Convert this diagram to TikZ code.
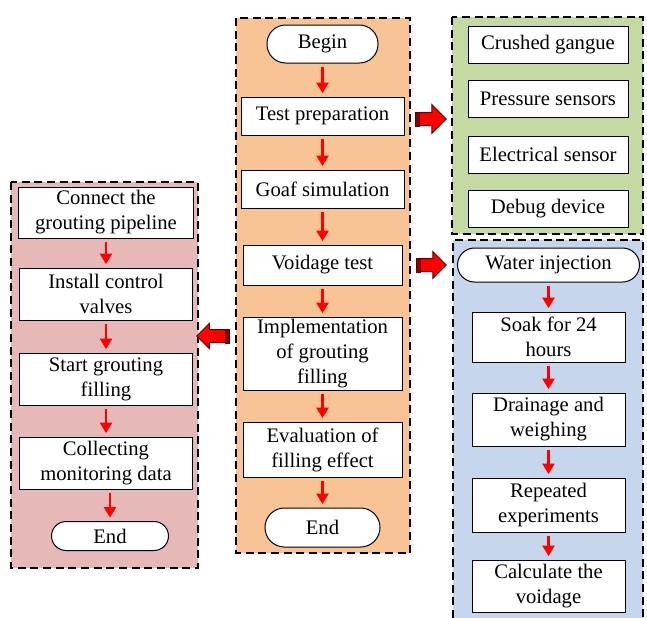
\documentclass[tikz,border=0pt]{standalone}
\usepackage{fontspec}
\setmainfont{Liberation Serif}
\usetikzlibrary{arrows.meta,shapes.arrows}

\definecolor{orangebg}{RGB}{248,195,149}
\definecolor{greenbg}{RGB}{197,218,163}
\definecolor{bluebg}{RGB}{197,214,237}
\definecolor{pinkbg}{RGB}{230,185,184}
\definecolor{arrowedge}{RGB}{90,0,0}

\tikzset{every picture/.style={line width=0.75pt}}
\tikzset{
  panel/.style={draw=black, line width=2pt, dash pattern=on 6pt off 3.5pt},
  procbox/.style={draw=black, fill=white, inner sep=0pt, align=center, font=\fontsize{15.5}{18.75}\selectfont},
  pillbox/.style={procbox, rounded corners=#1},
  pillbox/.default=14pt,
  flow/.style={draw=red, line width=2pt, -{Triangle[width=9pt,length=8pt]}, shorten <=2.5pt, shorten >=2.5pt},
  bigarrow/.style={single arrow, draw=arrowedge, fill=red, line width=0.75pt, inner xsep=0pt, inner ysep=4.5pt,
    single arrow head extend=#1, single arrow head indent=0pt},
  bigarrow/.default=6pt,
  arrowshade/.style={draw=arrowedge, fill=red!55!black, line width=0.6pt}
}

\begin{document}
\begin{tikzpicture}[x=0.75pt,y=0.75pt,yscale=-1,xscale=1]
\useasboundingbox (0,0) rectangle (647,618);

%Shape: Rectangle [orange panel]
\draw [panel, fill=orangebg] (236,18) rectangle (410,553) ;
%Shape: Rectangle [green panel]
\draw [panel, fill=greenbg] (452,17) rectangle (643,234) ;
%Shape: Rectangle [blue panel, runs off the bottom]
\fill [bluebg] (453,240) rectangle (643,618) ;
\draw [panel] (453,618) -- (453,240) -- (643,240) -- (643,618) ;
%Shape: Rectangle [pink panel]
\draw [panel, fill=pinkbg] (11,182) rectangle (198,568) ;

%Shape: Block Arrows
\node [bigarrow, minimum height=22.5pt] (togreen) at (428,119) {};
\fill [arrowshade] (togreen.before tail) rectangle ([xshift=3pt]togreen.after tail) ;
\node [bigarrow=5.25pt, minimum height=21.75pt] (toblue) at (428.5,265) {};
\fill [arrowshade] (toblue.before tail) rectangle ([xshift=3pt]toblue.after tail) ;
\node [bigarrow=4.5pt, shape border rotate=180, minimum height=24pt] (topink) at (216,336) {};
\fill [arrowshade] (topink.before tail) rectangle ([xshift=-3pt]topink.after tail) ;

% Text Node [middle column]
\node [pillbox, minimum width=83.25pt, minimum height=28.5pt] (begin) at (322.5,44) {Begin};
\node [procbox, minimum width=122.25pt, minimum height=28.5pt] (prep) at (322.5,116) {Test preparation};
\node [procbox, minimum width=122.25pt, minimum height=28.5pt] (goaf) at (322.5,189) {Goaf simulation};
\node [procbox, minimum width=119.25pt, minimum height=30pt] (voidage) at (322.5,265) {Voidage test};
\node [procbox, minimum width=119.25pt, minimum height=54.75pt] (grout) at (322.5,353.5) {Implementation\\of grouting\\filling};
\node [procbox, minimum width=119.25pt, minimum height=41.25pt] (evalu) at (322.5,449.5) {Evaluation of\\filling effect};
\node [pillbox=14.6pt, minimum width=86.25pt, minimum height=29.25pt] (endmid) at (322.5,527.5) {End};

% Text Node [green panel]
\node [procbox, minimum width=120pt, minimum height=27.75pt] (gangue) at (548,45) {Crushed gangue};
\node [procbox, minimum width=120pt, minimum height=27.75pt] (pressure) at (548,98.5) {Pressure sensors};
\node [procbox, minimum width=120pt, minimum height=27.75pt] (electric) at (548,154.5) {Electrical sensor};
\node [procbox, minimum width=120pt, minimum height=27.75pt] (debug) at (548,208.5) {Debug device};

% Text Node [blue panel]
\node [pillbox=12.75pt, minimum width=136.5pt, minimum height=25.5pt] (water) at (548.5,265) {Water injection};
\node [procbox, minimum width=114.75pt, minimum height=37.5pt] (soak) at (548.5,337) {Soak for 24\\hours};
\node [procbox, minimum width=114.75pt, minimum height=39.75pt] (drain) at (548.5,419.5) {Drainage and\\weighing};
\node [procbox, minimum width=114.75pt, minimum height=40.5pt] (repeat) at (548.5,505) {Repeated\\experiments};
\node [procbox, minimum width=114.75pt, minimum height=39pt] (calc) at (548.5,586) {Calculate the\\voidage};

% Text Node [pink panel]
\node [procbox, minimum width=131.25pt, minimum height=38.25pt] (connect) at (106,212.5) {Connect the\\grouting pipeline};
\node [procbox, minimum width=130pt, minimum height=39pt] (install) at (106,294) {Install control\\valves};
\node [procbox, minimum width=130pt, minimum height=39pt] (start) at (106,379) {Start grouting\\filling};
\node [procbox, minimum width=130pt, minimum height=39pt] (collect) at (106,463) {Collecting\\monitoring data};
\node [pillbox=10.9pt, minimum width=87.75pt, minimum height=21.75pt] (endleft) at (110,536) {End};

% Flow arrows
\draw [flow] (begin) -- (prep) ;
\draw [flow] (prep) -- (goaf) ;
\draw [flow] (goaf) -- (voidage) ;
\draw [flow] (voidage) -- (grout) ;
\draw [flow] (grout) -- (evalu) ;
\draw [flow] (evalu) -- (endmid) ;
\draw [flow] (water) -- (soak) ;
\draw [flow] (soak) -- (drain) ;
\draw [flow] (drain) -- (repeat) ;
\draw [flow] (repeat) -- (calc) ;
\draw [flow] (connect) -- (install) ;
\draw [flow] (install) -- (start) ;
\draw [flow] (start) -- (collect) ;
\draw [flow] (collect.south -| endleft.north) -- (endleft.north) ;

\end{tikzpicture}
\end{document}
